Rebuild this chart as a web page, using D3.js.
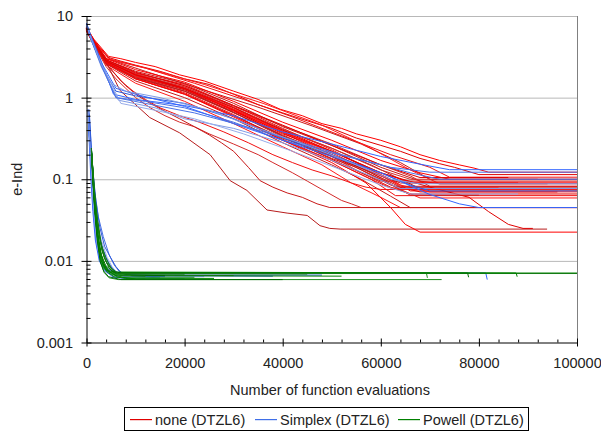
<!DOCTYPE html>
<html>
<head>
<meta charset="utf-8">
<script src="https://cdn.jsdelivr.net/npm/d3@7/dist/d3.min.js"></script>
<style>
	body { margin: 0; background: #fff; }
	text { font-family: 'Liberation Sans', Arial, sans-serif; font-size: 14.5px; fill: #222; }
</style>
</head>
<body>
<div id="chart"></div>
<script>
// tick values
const xTicks = [0, 20000, 40000, 60000, 80000, 100000]
const yTicks = [0.001, 0.01, 0.1, 1, 10]
const seriesNames = ['none (DTZL6)', 'Simplex (DTZL6)', 'Powell (DTZL6)']

// each run: [function evaluations, e-Ind]
const noneRuns = [
	[[0,7.2],[1500,5.2],[4500,3.2],[7000,3.0],[10000,2.7],[14000,2.4],[19000,1.9],[24000,1.6],[30000,1.2],[35000,0.95],[39500,0.72],[44000,0.6],[48000,0.48],[52000,0.42],[55000,0.36],[60000,0.3],[64000,0.25],[68000,0.2],[72000,0.17],[76000,0.15],[79000,0.137],[82000,0.122],[100000,0.122]],
	[[0,6.8],[1500,5.0],[4500,3.1],[7000,2.8],[10000,2.5],[15000,2.1],[20000,1.7],[25000,1.45],[30000,1.1],[35000,0.82],[40000,0.65],[45000,0.52],[50000,0.42],[55000,0.32],[60000,0.26],[64000,0.22],[68000,0.18],[72000,0.155],[75000,0.14],[80000,0.114],[100000,0.114]],
	[[0,7.0],[1500,4.8],[4000,3.0],[12000,2.3],[22000,1.5],[32000,0.95],[42000,0.58],[52000,0.34],[62000,0.2],[70000,0.14],[74000,0.106],[100000,0.106]],
	[[0,6.5],[1500,4.6],[5000,2.9],[12000,2.1],[22000,1.35],[34000,0.8],[46000,0.45],[56000,0.27],[64000,0.16],[70000,0.1],[100000,0.1]],
	[[0,7.4],[1500,5.0],[4500,3.0],[12000,2.3],[24000,1.45],[36000,0.85],[48000,0.46],[58000,0.24],[66000,0.13],[72000,0.088],[94000,0.088]],
	[[0,6.9],[1500,4.9],[4000,2.9],[10000,2.0],[20000,1.4],[30000,0.78],[40000,0.45],[50000,0.27],[60000,0.15],[66000,0.11],[70000,0.082],[100000,0.082]],
	[[0,7.0],[1500,4.6],[4000,2.7],[10000,1.9],[20000,1.3],[30000,0.72],[40000,0.4],[50000,0.24],[58000,0.15],[64000,0.1],[68000,0.077],[100000,0.077]],
	[[0,6.6],[1500,4.5],[4000,2.6],[10000,1.8],[20000,1.2],[30000,0.68],[40000,0.36],[50000,0.22],[56000,0.15],[62000,0.1],[66000,0.072],[100000,0.072]],
	[[0,7.1],[1500,4.8],[4500,2.8],[10000,1.85],[20000,1.25],[30000,0.7],[40000,0.34],[48000,0.2],[56000,0.12],[62000,0.08],[66000,0.066],[100000,0.066]],
	[[0,6.7],[1500,4.7],[4000,2.8],[10000,1.75],[20000,1.15],[30000,0.62],[40000,0.3],[50000,0.17],[58000,0.1],[63000,0.063],[100000,0.063]],
	[[0,7.2],[1500,5.0],[4000,2.9],[10000,2.1],[20000,1.5],[30000,0.85],[40000,0.44],[50000,0.26],[60000,0.14],[68000,0.095],[72000,0.088],[100000,0.088]],
	[[0,6.8],[1500,4.8],[4000,2.8],[10000,1.9],[20000,1.35],[30000,0.75],[40000,0.38],[50000,0.2],[58000,0.12],[64000,0.075],[68000,0.059],[100000,0.059]],
	[[0,7.0],[1500,4.7],[4000,2.7],[10000,1.8],[20000,1.2],[30000,0.65],[40000,0.35],[50000,0.19],[56000,0.12],[60000,0.095],[100000,0.095]],
	[[0,6.5],[1500,4.4],[4000,2.6],[10000,1.7],[20000,1.1],[30000,0.6],[40000,0.32],[50000,0.19],[60000,0.11],[64000,0.09],[88000,0.09]],
	[[0,7.3],[1500,5.1],[4000,3.0],[10000,2.2],[20000,1.55],[30000,0.9],[40000,0.5],[50000,0.3],[60000,0.17],[68000,0.12],[74000,0.1],[92000,0.1]],
	[[0,6.9],[1500,4.8],[4000,2.8],[10000,1.95],[20000,1.3],[30000,0.7],[40000,0.37],[48000,0.22],[56000,0.13],[62000,0.085],[68000,0.07],[96000,0.07]],
	[[0,7.0],[1500,4.9],[4000,2.85],[10000,2.0],[20000,1.45],[30000,0.8],[40000,0.42],[50000,0.23],[58000,0.13],[64000,0.082],[100000,0.082]],
	[[0,6.6],[1500,4.5],[4000,2.7],[10000,1.85],[20000,1.25],[30000,0.66],[40000,0.33],[50000,0.18],[55000,0.14],[60000,0.1],[66000,0.064],[80000,0.064]],
	[[0,6.9],[1500,4.7],[4000,2.75],[10000,1.85],[20000,1.3],[30000,0.72],[40000,0.39],[50000,0.21],[58000,0.125],[64000,0.085],[70000,0.07],[100000,0.07]],
	[[0,7.1],[1500,4.9],[4000,2.85],[10000,1.95],[20000,1.35],[30000,0.76],[40000,0.41],[50000,0.24],[60000,0.13],[66000,0.1],[100000,0.1]],
	[[0,6.7],[1500,4.6],[4000,2.7],[10000,1.75],[20000,1.2],[30000,0.66],[40000,0.34],[50000,0.2],[58000,0.12],[64000,0.08],[100000,0.08]],
	[[0,7.0],[1500,4.8],[4000,2.8],[10000,1.9],[20000,1.28],[30000,0.7],[40000,0.38],[50000,0.22],[60000,0.12],[66000,0.092],[100000,0.092]],
	[[0,7.2],[1500,5.0],[4000,2.9],[10000,2.05],[20000,1.4],[30000,0.8],[40000,0.46],[50000,0.26],[60000,0.15],[68000,0.105],[86000,0.105]],
	[[0,6.8],[1500,4.6],[4000,2.65],[10000,1.7],[20000,1.12],[30000,0.6],[40000,0.31],[50000,0.17],[58000,0.1],[62000,0.078],[84000,0.078]],
	[[0,7.0],[1500,4.6],[4000,2.6],[10000,1.6],[20000,1.0],[30000,0.55],[40000,0.28],[50000,0.15],[56000,0.1],[62000,0.062],[66000,0.045],[100000,0.045]],
	[[0,6.8],[1500,4.5],[4000,2.5],[10000,1.5],[20000,0.9],[30000,0.48],[40000,0.25],[48000,0.15],[54000,0.09],[60000,0.06],[64000,0.045],[100000,0.045]],
	[[0,7.0],[1500,4.4],[4000,2.4],[6000,1.7],[8000,1.3],[10000,1.0],[13000,0.75],[16000,0.6],[19000,0.5],[22000,0.44],[25000,0.36],[30000,0.27],[35000,0.2],[38000,0.16],[42000,0.12],[45000,0.095],[48000,0.075],[52000,0.055],[54000,0.05],[56000,0.045],[100000,0.045]],
	[[0,7.1],[1700,4.4],[3800,2.9],[6800,1.23],[12900,0.57],[19000,0.37],[25200,0.2],[29300,0.096],[32700,0.073],[36800,0.042],[40900,0.0385],[45000,0.036],[47600,0.027],[49600,0.025],[51700,0.0245],[93900,0.0245]],
	[[0,6.9],[1500,4.6],[4000,2.7],[10000,1.7],[20000,1.1],[30000,0.58],[40000,0.3],[50000,0.16],[57000,0.09],[62000,0.045],[65000,0.028],[68000,0.0225],[100000,0.0225]],
	[[0,7.0],[1500,4.7],[4000,2.8],[10000,1.9],[20000,1.3],[30000,0.75],[40000,0.4],[50000,0.22],[60000,0.12],[70000,0.08],[78000,0.06],[82000,0.04],[86000,0.028],[89000,0.025],[91000,0.025]],
	[[0,7.0],[1500,4.5],[4000,2.6],[7000,1.6],[9500,1.2],[12000,0.95],[15000,0.75],[19000,0.6],[23000,0.5],[28000,0.38],[33000,0.28],[38000,0.2],[42000,0.16],[46000,0.13],[50000,0.11],[54000,0.09],[57000,0.08],[60000,0.075],[100000,0.075]],
	[[0,7.1],[1500,4.6],[4000,2.6],[6000,1.9],[8000,1.4],[10500,1.05],[13000,0.85],[16000,0.68],[19000,0.55],[22000,0.44],[25000,0.35],[27500,0.28],[30000,0.22],[33000,0.14],[35400,0.096],[38000,0.08],[40900,0.068],[44000,0.06],[47000,0.05],[49600,0.045],[100000,0.045]],
]

const simplexRuns = [
	// slow runs
	[[0,8.2],[1000,5.5],[3000,2.8],[5500,1.1],[10000,0.95],[20000,0.8],[30000,0.6],[40000,0.38],[50000,0.27],[60000,0.19],[70000,0.145],[74000,0.131],[100000,0.131]],
	[[0,7.8],[1000,5.2],[3000,2.5],[6000,1.0],[12000,0.9],[20000,0.75],[30000,0.5],[40000,0.3],[50000,0.21],[60000,0.15],[66000,0.12],[72000,0.1],[100000,0.1]],
	[[0,8.0],[1000,5.0],[3000,2.4],[6500,0.93],[14000,0.75],[20000,0.55],[30000,0.42],[40000,0.28],[50000,0.17],[58000,0.11],[64000,0.077],[100000,0.077]],
	[[0,7.5],[1000,5.0],[3500,2.2],[6000,1.2],[10000,1.05],[20000,0.85],[30000,0.55],[40000,0.32],[50000,0.2],[60000,0.12],[66000,0.085],[70000,0.072],[100000,0.072]],
	[[0,7.9],[1000,5.3],[3000,2.6],[7000,0.85],[14000,0.7],[22000,0.55],[32000,0.36],[42000,0.22],[52000,0.13],[60000,0.085],[66000,0.066],[88000,0.066]],
	[[0,8.1],[1000,5.4],[3000,2.7],[6000,1.3],[10000,1.1],[20000,0.78],[30000,0.48],[40000,0.3],[50000,0.19],[60000,0.12],[70000,0.065],[76000,0.05],[80000,0.045],[100000,0.045]],
	[[0,7.6],[1000,5.1],[3000,2.5],[6000,1.0],[12000,0.85],[22000,0.65],[32000,0.45],[42000,0.3],[52000,0.2],[62000,0.14],[70000,0.122],[100000,0.122]],
	[[0,7.7],[1000,5.2],[3000,2.6],[5000,1.5],[8000,1.2],[15000,1.0],[25000,0.7],[35000,0.42],[45000,0.26],[55000,0.15],[62000,0.1],[68000,0.088],[100000,0.088]],
	// fast runs
	[[300,0.72],[500,0.4],[800,0.18],[1100,0.08],[1500,0.035],[2000,0.017],[2800,0.01],[4000,0.0075],[6000,0.0067],[48000,0.0067]],
	[[400,0.7],[650,0.3],[1000,0.12],[1400,0.05],[1900,0.022],[2600,0.012],[3600,0.0085],[5000,0.007],[8000,0.0064],[24000,0.0064]],
	[[350,0.68],[600,0.33],[950,0.14],[1350,0.055],[1800,0.025],[2500,0.013],[3300,0.0095],[4500,0.0078],[7000,0.0071],[81400,0.0071],[81700,0.0059]],
	[[500,0.6],[800,0.28],[1200,0.11],[1700,0.05],[2400,0.025],[3300,0.014],[4500,0.0095],[5800,0.0075],[7500,0.0065],[15000,0.0062]],
	[[300,0.7],[550,0.38],[850,0.17],[1200,0.07],[1600,0.03],[2100,0.015],[2900,0.0095],[4200,0.0072],[6500,0.0063],[12000,0.0061]],
	[[450,0.65],[750,0.3],[1150,0.12],[1700,0.05],[2400,0.024],[3300,0.014],[4400,0.0095],[5400,0.0078],[6800,0.0066],[38000,0.0065]],
	[[400,0.7],[700,0.35],[1100,0.14],[1600,0.06],[2200,0.03],[3000,0.018],[4200,0.011],[5200,0.0085],[6200,0.0072],[8000,0.0066],[18000,0.0066]],
	[[350,0.55],[600,0.25],[900,0.1],[1300,0.04],[1800,0.018],[2600,0.01],[3800,0.0075],[5500,0.0063],[9000,0.006],[20000,0.006]],
	[[500,0.72],[800,0.35],[1200,0.15],[1700,0.07],[2400,0.035],[3400,0.02],[4600,0.012],[5600,0.009],[6600,0.0075],[8000,0.0068],[14000,0.0066]],
	[[300,0.7],[500,0.45],[800,0.2],[1150,0.08],[1600,0.032],[2300,0.014],[3200,0.0095],[4600,0.0074],[6800,0.0066],[11000,0.0064]],
	[[600,0.62],[900,0.3],[1300,0.13],[1900,0.055],[2700,0.026],[3700,0.015],[4900,0.011],[6000,0.0085],[7300,0.0069],[9500,0.0065],[16000,0.0064]],
]

const powellRuns = [
	[[1000,0.24],[1250,0.12],[1600,0.05],[2100,0.022],[2700,0.012],[3400,0.0085],[4400,0.0074],[6000,0.0071],[100000,0.0071]],
	[[1100,0.2],[1400,0.09],[1800,0.04],[2300,0.019],[3000,0.011],[3800,0.008],[5000,0.0072],[7000,0.007],[100000,0.007]],
	[[1000,0.23],[1300,0.1],[1700,0.045],[2200,0.02],[2800,0.011],[3600,0.008],[4800,0.0072],[7000,0.0071],[69300,0.0071],[69500,0.0062]],
	[[1150,0.18],[1450,0.08],[1850,0.035],[2400,0.017],[3100,0.01],[4000,0.0078],[5500,0.0072],[77700,0.0071],[77900,0.0063]],
	[[1050,0.21],[1350,0.1],[1750,0.042],[2250,0.02],[2900,0.0115],[3700,0.0083],[4900,0.0073],[87600,0.0071],[87800,0.0064]],
	[[1000,0.22],[1300,0.11],[1650,0.05],[2150,0.024],[2800,0.013],[3600,0.0088],[4700,0.0074],[6500,0.007],[64500,0.007]],
	[[1100,0.2],[1400,0.09],[1800,0.038],[2300,0.017],[2900,0.0095],[3600,0.0072],[4600,0.0062],[6500,0.0059],[72400,0.0059]],
	[[1000,0.24],[1300,0.1],[1700,0.04],[2200,0.018],[2800,0.0098],[3500,0.0075],[4500,0.0064],[7000,0.0059],[40000,0.0059]],
	[[1200,0.16],[1600,0.075],[2100,0.036],[2800,0.018],[3600,0.011],[4600,0.0082],[5800,0.007],[7500,0.0066],[52000,0.0065]],
	[[1050,0.22],[1400,0.1],[1800,0.05],[2400,0.025],[3100,0.014],[4000,0.0098],[5200,0.0078],[6800,0.0067],[30000,0.0066]],
	[[1100,0.19],[1400,0.085],[1800,0.04],[2350,0.019],[3000,0.011],[3900,0.008],[5200,0.0068],[7500,0.0063],[22000,0.0063]],
	[[1000,0.23],[1250,0.11],[1600,0.052],[2050,0.025],[2600,0.014],[3300,0.0095],[4300,0.0076],[6000,0.0067],[16000,0.0066]],
	[[1150,0.17],[1450,0.08],[1850,0.036],[2400,0.017],[3100,0.0098],[4100,0.0074],[5600,0.0064],[8000,0.0061],[26000,0.0061]],
	[[1000,0.22],[1350,0.1],[1800,0.048],[2400,0.024],[3200,0.013],[4200,0.0092],[5500,0.0075],[7200,0.0066],[12000,0.0065]],
	[[1100,0.2],[1400,0.095],[1850,0.04],[2450,0.018],[3200,0.01],[4300,0.0078],[6000,0.0068],[9000,0.0067]],
	[[1050,0.21],[1350,0.095],[1750,0.044],[2300,0.021],[3000,0.012],[3900,0.0088],[5300,0.0074],[8000,0.0069],[20000,0.0069]],
	[[1200,0.15],[1500,0.07],[2000,0.03],[2700,0.014],[3500,0.0092],[4600,0.0074],[6300,0.0064],[10000,0.006]],
	[[1000,0.24],[1300,0.13],[1700,0.062],[2300,0.03],[3000,0.016],[3900,0.011],[5000,0.0082],[6500,0.007],[45000,0.0069]],
]

const RED_SHADES = ['#ff0000', '#e00000', '#f21010', '#c81818', '#ff1a1a', '#d42a2a', '#b81c1c']
const BLUE_SHADES = ['#3366ff', '#4a72e6', '#7f9be6', '#2f5bd9', '#97acea']
const GREEN_SHADES = ['#008000', '#127a12', '#1f8f1f', '#006a00']
const LEGEND_COLORS = ['#e00000', '#3f6fe8', '#008000']

const WIDTH = 601
const HEIGHT = 433
const LEFT = 86.5
const RIGHT = 577
const TOP = 16
const BOTTOM = 342.5

const svg = d3.select('#chart').append('svg').attr('width', WIDTH).attr('height', HEIGHT)

const x = d3.scaleLinear().domain([0, 100000]).range([LEFT, RIGHT])
const y = d3.scaleLog().domain([0.001, 10]).range([BOTTOM, TOP])

// grid lines + plot border
svg.append('g')
	.selectAll('line')
	.data(yTicks.filter(d => d > 0.001))
	.join('line')
	.attr('x1', LEFT).attr('x2', RIGHT)
	.attr('y1', d => y(d) + 0.5).attr('y2', d => y(d) + 0.5)
	.attr('stroke', '#b8b8b8')

svg.append('line')
	.attr('x1', RIGHT + 0.5).attr('x2', RIGHT + 0.5)
	.attr('y1', TOP).attr('y2', BOTTOM)
	.attr('stroke', '#808080')

// runs
const line = d3.line().x(d => x(d[0])).y(d => y(d[1]))
const content = svg.append('g').attr('fill', 'none').attr('stroke-width', 1)

content.append('g').selectAll('path').data(noneRuns).join('path')
	.attr('d', line).attr('stroke', (_, i) => RED_SHADES[i % RED_SHADES.length])
content.append('g').selectAll('path').data(simplexRuns).join('path')
	.attr('d', line).attr('stroke', (_, i) => BLUE_SHADES[i % BLUE_SHADES.length])
content.append('g').selectAll('path').data(powellRuns).join('path')
	.attr('d', line).attr('stroke', (_, i) => GREEN_SHADES[i % GREEN_SHADES.length])

// y axis
const yMinor = []
yTicks.slice(0, -1).forEach(t => { for (let k = 2; k <= 9; k++) yMinor.push(t * k) })

const yaxis = svg.append('g').attr('transform', `translate(${LEFT},0)`)
yaxis.call(d3.axisLeft(y).tickValues(yTicks).tickFormat(d => String(d)).tickSize(5).tickSizeOuter(0).tickPadding(8.5))
yaxis.selectAll('.tick line').attr('x1', 5)
svg.append('g').attr('transform', `translate(${LEFT},0)`)
	.call(d3.axisLeft(y).tickValues(yMinor).tickFormat('').tickSize(-4).tickSizeOuter(0))
	.call(g => g.select('.domain').remove())

// x axis
const xMinor = d3.range(4000, 100000, 4000).filter(d => d % 20000 !== 0)
const xaxis = svg.append('g').attr('transform', `translate(0,${BOTTOM})`)
xaxis.call(d3.axisBottom(x).tickValues(xTicks).tickFormat(d => String(d)).tickSize(4).tickSizeOuter(0).tickPadding(11))
xaxis.selectAll('.tick line').attr('y1', -4)
svg.append('g').attr('transform', `translate(0,${BOTTOM})`)
	.call(d3.axisBottom(x).tickValues(xMinor).tickFormat('').tickSize(-3).tickSizeOuter(0))
	.call(g => g.select('.domain').remove())

svg.selectAll('.tick text').attr('font-family', null).attr('font-size', null).style('fill', '#222')

// axis titles
svg.append('text')
	.attr('x', 330).attr('y', 395)
	.attr('text-anchor', 'middle')
	.text('Number of function evaluations')

svg.append('text')
	.attr('transform', `translate(22,${(TOP + BOTTOM) / 2}) rotate(-90)`)
	.attr('text-anchor', 'middle')
	.text('e-Ind')

// legend
const legend = svg.append('g')
legend.append('rect')
	.attr('x', 124.5).attr('y', 407.5).attr('width', 404).attr('height', 23)
	.attr('fill', '#fff').attr('stroke', '#000')

const LEGEND_X = [130, 255, 398]
seriesNames.forEach((name, i) => {
	legend.append('rect')
		.attr('x', LEGEND_X[i]).attr('y', 419)
		.attr('width', 22).attr('height', 1.2)
		.attr('fill', LEGEND_COLORS[i])
	legend.append('text')
		.attr('x', LEGEND_X[i] + 25).attr('y', 424.5)
		.text(name)
})
</script>
</body>
</html>
